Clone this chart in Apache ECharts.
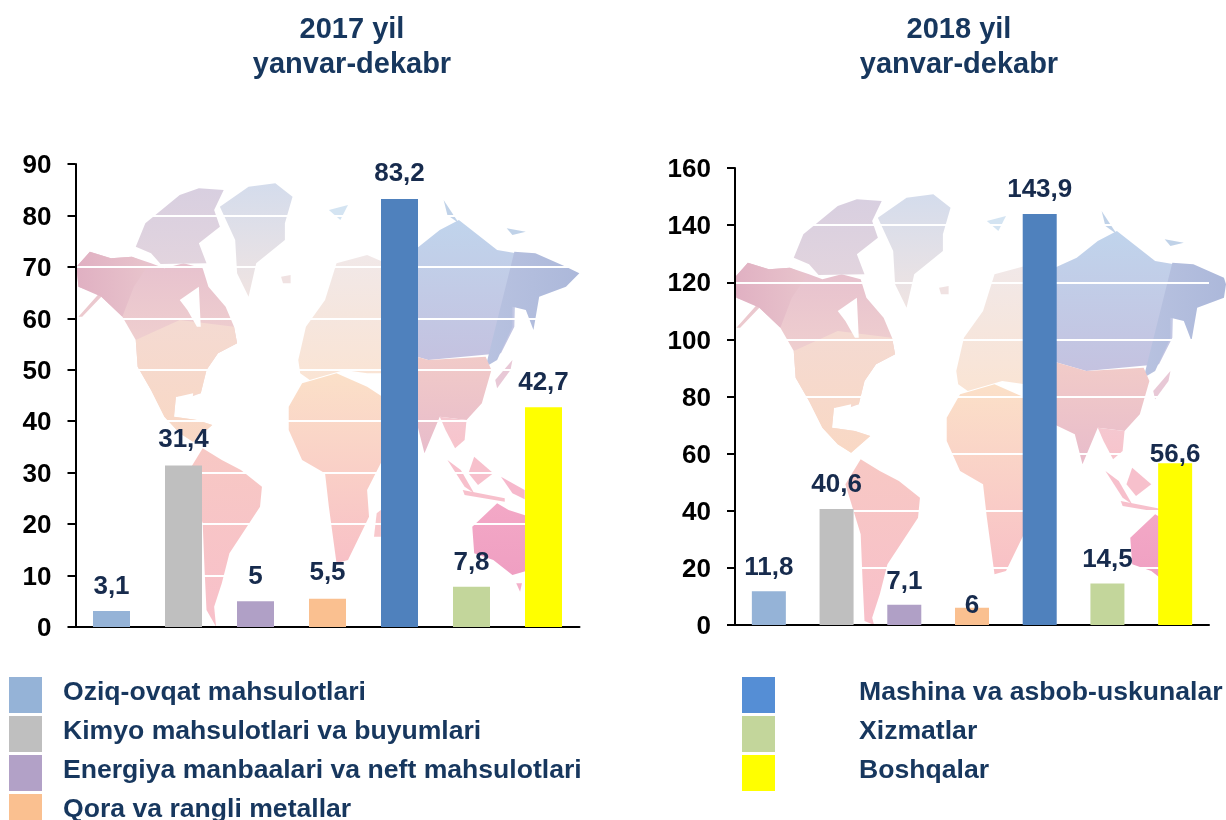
<!DOCTYPE html>
<html><head><meta charset="utf-8">
<style>html,body{margin:0;padding:0;background:#fff;overflow:hidden}#c{width:1226px;height:820px}</style>
<script src="https://cdn.jsdelivr.net/npm/echarts@6/dist/echarts.min.js"></script>
</head><body><div id="c"></div>
<script>
const categories = ["Oziq-ovqat mahsulotlari","Kimyo mahsulotlari va buyumlari","Energiya manbaalari va neft mahsulotlari","Qora va rangli metallar","Mashina va asbob-uskunalar","Xizmatlar","Boshqalar"];
const values2017 = [3.1,31.4,5,5.5,83.2,7.8,42.7];
const values2018 = [11.8,40.6,7.1,6,143.9,14.5,56.6];
const titles = ["2017 yil\nyanvar-dekabr","2018 yil\nyanvar-dekabr"];
const barColors = ["#95b3d7","#bfbfbf","#b0a0c6","#fac090","#4f81bd","#c3d69b","#ffff00"];
const legendColors = ["#95b3d7","#bfbfbf","#b2a1c7","#fac090","#558ed5","#c3d69b","#ffff00"];
const labelGap2017 = [11,13,11,13,12,11,12];
const labelGap2018 = [10,11,10,-11,11,11,-4];

// decorative backdrop: [points in crop space, top/left colour, bottom/right colour, gradient direction]
const mapShapes = [
 [[[200,380],[235,335],[290,355],[345,350],[395,370],[430,385],[480,370],[530,385],[545,440],[590,500],[612,560],[620,610],[570,640],[540,690],[525,760],[500,770],[460,770],[455,830],[515,840],[555,855],[505,905],[470,880],[430,830],[395,750],[360,680],[355,600],[320,530],[265,470],[215,530],[205,530],[258,462],[205,440]],"#e6c0ce","#f9dfd0",0],
 [[[200,380],[235,335],[290,355],[345,350],[390,372],[350,440],[320,530],[265,470],[205,440]],"#e0b0c2","#e8c4cc",1],
 [[[355,600],[470,540],[612,560],[620,610],[570,640],[540,690],[525,760],[460,770],[455,830],[515,840],[555,855],[505,905],[470,880],[430,830],[395,750],[360,680]],"#f4dad2","#f9d8c4",0],
 [[[355,320],[380,250],[470,165],[520,145],[585,150],[560,210],[575,260],[520,310],[540,370],[420,372],[395,340]],"#d8cfe0","#e2d4de",0],
 [[[575,200],[650,140],[720,130],[765,170],[745,250],[745,300],[670,370],[650,470],[620,400],[615,300]],"#d4dcec","#f0e4e2",0],
 [[[735,410],[760,405],[760,430],[740,430]],"#f0e2e2","#f0e2e2",0],
 [[[470,480],[520,440],[525,560],[515,560],[490,510]],"#ffffff","#ffffff",0],
 [[[465,770],[505,760],[500,830],[465,830]],"#ffffff","#ffffff",0],
 [[[490,1000],[530,925],[580,960],[630,990],[685,1040],[680,1100],[640,1170],[600,1240],[580,1330],[560,1400],[565,1460],[540,1410],[535,1290],[530,1150]],"#f7c8c4","#f8c0ca",0],
 [[[755,800],[790,730],[880,700],[960,740],[1000,770],[1000,960],[960,1050],[965,1130],[910,1260],[880,1270],[860,1100],[850,1000],[790,960],[755,870]],"#fbe0c8","#f8c0c6",0],
 [[[985,1120],[996,1110],[996,1190],[978,1190]],"#f8c8cc","#f8c8cc",0],
 [[[780,660],[800,560],[850,480],[880,370],[960,345],[1010,370],[1010,700],[960,700],[900,690],[810,720],[785,700]],"#f1e8e8","#fae4d4",0],
 [[[1000,370],[1095,320],[1150,270],[1200,240],[1300,330],[1350,340],[1345,560],[1310,640],[1120,660],[1000,620]],"#c0d4ec","#c4c2e0",0],
 [[[1345,335],[1400,340],[1480,380],[1515,400],[1480,440],[1410,470],[1395,570],[1375,510],[1340,500],[1340,560],[1300,660],[1270,680]],"#b8c2e0","#acb8da",1],
 [[[1000,620],[1120,660],[1270,650],[1285,690],[1260,790],[1220,840],[1150,830],[1110,940],[1090,850],[1000,800]],"#f2ccc8","#e8bccb",0],
 [[[1150,830],[1220,840],[1215,900],[1190,925],[1165,870]],"#f5c8d0","#f7c4cc",0],
 [[[1170,960],[1205,990],[1240,1060],[1215,1040]],"#f7c0cc","#f7c0cc",0],
 [[[1240,950],[1290,1000],[1250,1035],[1225,1000]],"#f7c0cc","#f7c0cc",0],
 [[[1210,1050],[1320,1075],[1320,1085],[1215,1065]],"#f7c0cc","#f7c0cc",0],
 [[[1310,1010],[1372,1050],[1372,1078],[1340,1060]],"#f6b8cc","#f6b8cc",0],
 [[[1340,660],[1335,690],[1300,745],[1295,720]],"#e8c8d6","#e8c8d6",0],
 [[[1235,1160],[1300,1090],[1330,1110],[1385,1130],[1385,1290],[1340,1305],[1290,1260],[1240,1240]],"#f3a8c6","#ef9fc2",0],
 [[[1350,1330],[1365,1330],[1360,1355]],"#f3b0ca","#f3b0ca",0],
 [[[860,210],[910,195],[890,240]],"#d4e4f2","#d4e4f2",0],
 [[[1160,180],[1200,250],[1170,225]],"#c0d2e8","#c0d2e8",0],
 [[[1325,265],[1375,275],[1340,285]],"#c0d2e8","#c0d2e8",0]
];
const mapLayouts = [{dx:0,dy:0,maxY:627},{dx:658,dy:11,maxY:625}];

function fmt(v){return String(v).replace('.',',');}
const grids = [
 {left:75.5,top:164,width:504,height:463},
 {left:735,top:168,width:474,height:457}
];
const sets = [
 {vals:values2017,gaps:labelGap2017,max:90,step:10,barW:37},
 {vals:values2018,gaps:labelGap2018,max:160,step:20,barW:34}
];
const series=[];
sets.forEach((s,g)=>{
 categories.forEach((name,i)=>{
  series.push({type:'bar',name,xAxisIndex:g,yAxisIndex:g,stack:'s'+g,barWidth:s.barW,
   itemStyle:{color:barColors[i]},
   label:{show:true,position:'top',distance:s.gaps[i],color:'#172b4d',fontWeight:'bold',fontSize:26,fontFamily:'Liberation Sans',formatter:p=>fmt(p.value)},
   data:categories.map((c,k)=>k===i?s.vals[i]:null),z:5});
 });
});
const axisBlack={show:true,lineStyle:{color:'#000',width:2}};
const graphicEls=[];
mapLayouts.forEach(l=>{
 mapShapes.forEach(m=>{
  graphicEls.push({type:'polygon',z:-5,silent:true,
   shape:{points:m[0].map(p=>[Math.min(p[0]/2.615+l.dx,1226),Math.min(140+p[1]/3+l.dy,l.maxY)])},
   style:{fill:new echarts.graphic.LinearGradient(0,0,m[3]?1:0,m[3]?0:1,[{offset:0,color:m[1]},{offset:1,color:m[2]}])}});
 });
});
const titleStyle={color:'#17375e',fontWeight:'bold',fontSize:29,fontFamily:'Liberation Sans',lineHeight:35};
const legendFont={color:'#17375e',fontWeight:'bold',fontSize:26.6,fontFamily:'Liberation Sans'};
const legendBase={orient:'vertical',icon:'rect',itemWidth:33,itemHeight:36,itemGap:3,top:677,height:200,padding:0,selectedMode:false,formatter:n=>'{t|'+n+'}'};
const chart=echarts.init(document.getElementById('c'),null,{renderer:'canvas'});
chart.setOption({
 animation:false,
 backgroundColor:'#fff',
 title:[
  {text:titles[0],left:352,top:12,padding:0,textAlign:'center',textStyle:titleStyle},
  {text:titles[1],left:959,top:12,padding:0,textAlign:'center',textStyle:titleStyle}
 ],
 grid:grids,
 xAxis:grids.map((g,i)=>({type:'category',gridIndex:i,data:categories,axisLine:axisBlack,axisTick:{show:false},axisLabel:{show:false},splitLine:{show:false}})),
 yAxis:sets.map((s,i)=>({type:'value',gridIndex:i,min:0,max:s.max,interval:s.step,
  axisLine:axisBlack,axisTick:{show:true,length:8,lineStyle:{color:'#000',width:2}},
  axisLabel:{color:'#000',fontWeight:'bold',fontSize:26,fontFamily:'Liberation Sans',margin:24,verticalAlign:'top',lineHeight:4},
  splitLine:{show:true,lineStyle:{color:'#fff',width:2}}})),
 legend:[
  Object.assign({},legendBase,{left:9,data:categories.slice(0,4).map((n,i)=>({name:n,itemStyle:{color:legendColors[i]}})),
   textStyle:Object.assign({},legendFont,{rich:{t:Object.assign({},legendFont,{padding:[0,0,5,16]})}})}),
  Object.assign({},legendBase,{left:742,data:categories.slice(4).map((n,i)=>({name:n,itemStyle:{color:legendColors[i+4]}})),
   textStyle:Object.assign({},legendFont,{rich:{t:Object.assign({},legendFont,{padding:[0,0,5,79]})}})})
 ],
 graphic:{elements:graphicEls},
 series
});
</script></body></html>
